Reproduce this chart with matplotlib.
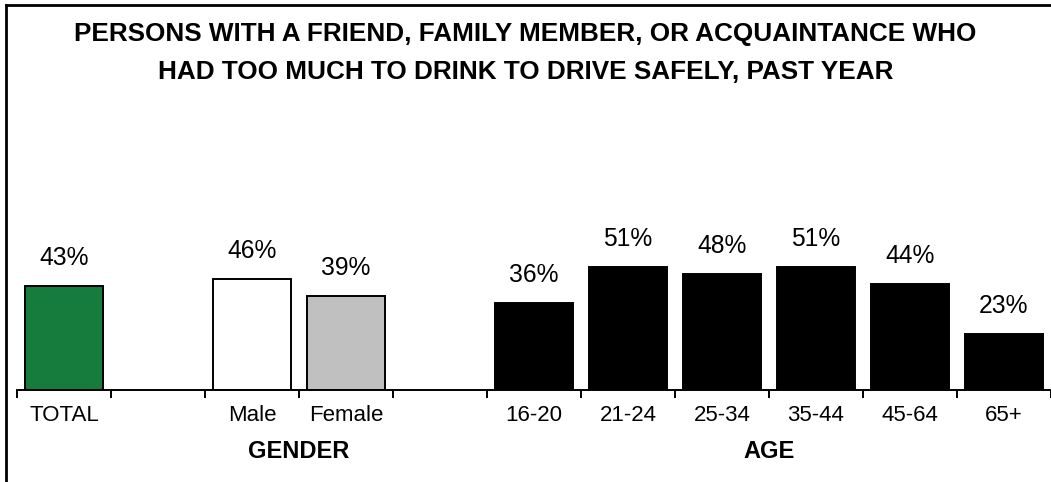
import matplotlib
matplotlib.use("Agg")
import matplotlib.pyplot as plt
from matplotlib.lines import Line2D

plt.rcParams["font.family"] = ["Liberation Sans", "DejaVu Sans"]

# Data
total_labels = ["TOTAL"]
total_values = [43]
gender_labels = ["Male", "Female"]
gender_values = [46, 39]
age_labels = ["16-20", "21-24", "25-34", "35-44", "45-64", "65+"]
age_values = [36, 51, 48, 51, 44, 23]
group_titles = ["GENDER", "AGE"]

title = ("PERSONS WITH A FRIEND, FAMILY MEMBER, OR ACQUAINTANCE WHO\n"
         "HAD TOO MUCH TO DRINK TO DRIVE SAFELY, PAST YEAR")

W, H = 1051, 482
fig = plt.figure(figsize=(W / 100, H / 100), dpi=100)

ymax = 60
px_per_unit = 2.42
n_slots = 11
left_px, base_px = 17, 390
ax = fig.add_axes([left_px / W, (H - base_px) / H, (W - left_px) / W,
                   ymax * px_per_unit / H])

# Lay out the three groups with one empty slot between them
groups = [
    (total_labels, total_values, ["#167C3D"]),
    (gender_labels, gender_values, ["white", "#C0C0C0"]),
    (age_labels, age_values, ["black"] * len(age_labels)),
]
tick_pos, tick_lab = [], []
group_centers = []
pos = 0
for labels, values, colors in groups:
    xs = list(range(pos, pos + len(labels)))
    ax.bar(xs, values, width=0.84, color=colors, edgecolor="black",
           linewidth=1.4, zorder=2)
    for x, v in zip(xs, values):
        ax.annotate(f"{v}%", (x, v), xytext=(0, 11.5),
                    textcoords="offset points", ha="center", va="bottom",
                    fontsize=17.7)
    tick_pos += xs
    tick_lab += labels
    group_centers.append((xs[0] + xs[-1]) / 2)
    pos += len(labels) + 1

ax.set_xlim(-0.5, n_slots - 0.5)
ax.set_ylim(0, ymax)

for s in ["left", "right", "top"]:
    ax.spines[s].set_visible(False)
ax.spines["bottom"].set_linewidth(1.4)
ax.set_yticks([])

# Category labels centered under bars, tick marks at slot boundaries
ax.set_xticks(tick_pos)
ax.set_xticklabels(tick_lab, fontsize=16)
ax.tick_params(axis="x", which="major", length=0, pad=10.5)
ax.set_xticks([i - 0.5 for i in range(n_slots + 1)], minor=True)
ax.tick_params(axis="x", which="minor", length=6, width=1.4, direction="out")

# Group captions under the category labels
for name, cx in zip(group_titles, group_centers[1:]):
    ax.annotate(name, (cx, 1 - 452 / H), xycoords=("data", "figure fraction"),
                ha="center", va="center", fontsize=17, fontweight="bold")

fig.text(0.5, 1 - 53 / H, title, ha="center", va="center", fontsize=18.8,
         fontweight="bold", linespacing=1.75)

# Outer frame (left and top edges)
fig.add_artist(Line2D([6 / W, 6 / W], [0, 1 - 5 / H], transform=fig.transFigure,
                      color="black", linewidth=2))
fig.add_artist(Line2D([6 / W, 1], [1 - 5 / H, 1 - 5 / H], transform=fig.transFigure,
                      color="black", linewidth=2))

fig.savefig("out.png", dpi=100)
